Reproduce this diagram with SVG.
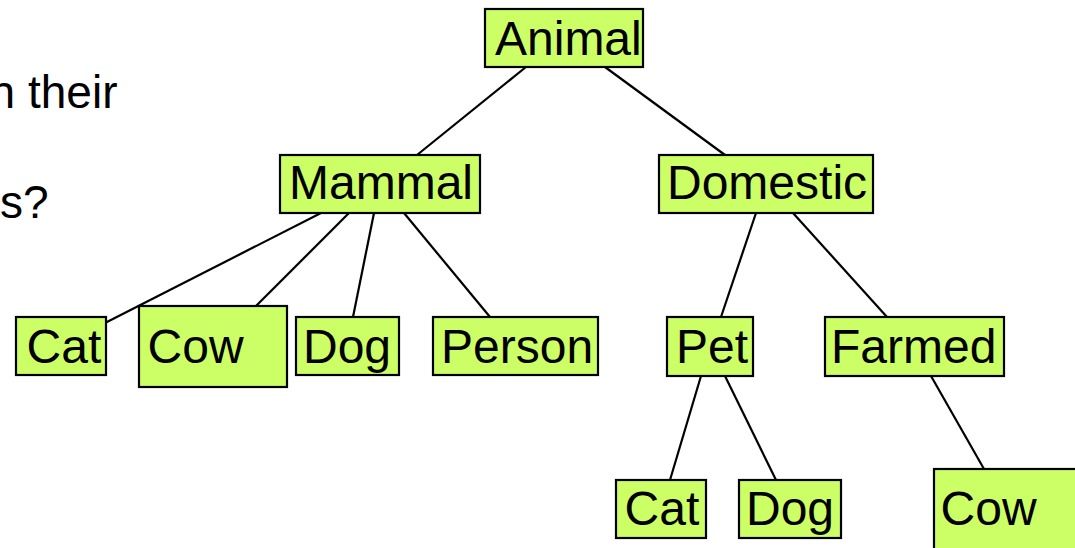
<svg xmlns="http://www.w3.org/2000/svg" width="1075" height="548" viewBox="0 0 1075 548">
<style>
.box{fill:#CCFF66;stroke:#000;stroke-width:2.2}
.lbl{font-family:"Liberation Sans",Arial,sans-serif;font-size:48px;fill:#000}
.txt{font-family:"Liberation Sans",Arial,sans-serif;font-size:46px;fill:#000}
.edge{stroke:#000;stroke-width:2.2;fill:none}
</style>
<rect width="1075" height="548" fill="#fff"/>
<text class="txt" x="-10.4" y="108">n their</text>
<text class="txt" x="0" y="218">s?</text>
<g id="connectors">
<line class="edge" x1="526" y1="67" x2="417" y2="155"/>
<line class="edge" x1="605" y1="67" x2="725" y2="155"/>
<line class="edge" x1="321" y1="213" x2="105" y2="323"/>
<line class="edge" x1="349" y1="213" x2="256" y2="306"/>
<line class="edge" x1="374" y1="213" x2="353" y2="317"/>
<line class="edge" x1="404" y1="213" x2="490" y2="317"/>
<line class="edge" x1="756" y1="213" x2="721" y2="317"/>
<line class="edge" x1="793" y1="213" x2="887" y2="317"/>
<line class="edge" x1="701" y1="376" x2="670" y2="480"/>
<line class="edge" x1="725" y1="376" x2="776" y2="480"/>
<line class="edge" x1="931" y1="376" x2="984" y2="469"/>
</g>
<g id="animal"><rect class="box" x="485" y="9" width="158" height="58"/><text class="lbl" x="495" y="55">Animal</text></g>
<g id="mammal"><rect class="box" x="280" y="155" width="200" height="58"/><text class="lbl" x="289" y="199">Mammal</text></g>
<g id="domestic"><rect class="box" x="659" y="155" width="214" height="58"/><text class="lbl" x="667" y="199">Domestic</text></g>
<g id="cat1"><rect class="box" x="16" y="317" width="90" height="58"/><text class="lbl" x="26.6" y="363">Cat</text></g>
<g id="cow1"><rect class="box" x="139" y="306" width="148" height="81"/><text class="lbl" x="147.6" y="363">Cow</text></g>
<g id="dog1"><rect class="box" x="296" y="317" width="103" height="58"/><text class="lbl" x="303" y="363">Dog</text></g>
<g id="person"><rect class="box" x="433" y="317" width="165" height="58"/><text class="lbl" x="441" y="363">Person</text></g>
<g id="pet"><rect class="box" x="667" y="317" width="86" height="59"/><text class="lbl" x="676" y="363">Pet</text></g>
<g id="farmed"><rect class="box" x="825" y="317" width="179" height="59"/><text class="lbl" x="831" y="363">Farmed</text></g>
<g id="cat2"><rect class="box" x="616" y="480" width="90" height="58"/><text class="lbl" x="624.6" y="525">Cat</text></g>
<g id="dog2"><rect class="box" x="739" y="480" width="102" height="58"/><text class="lbl" x="746" y="525">Dog</text></g>
<g id="cow2"><rect class="box" x="934" y="469" width="160" height="100"/><text class="lbl" x="940.6" y="525">Cow</text></g>
</svg>
